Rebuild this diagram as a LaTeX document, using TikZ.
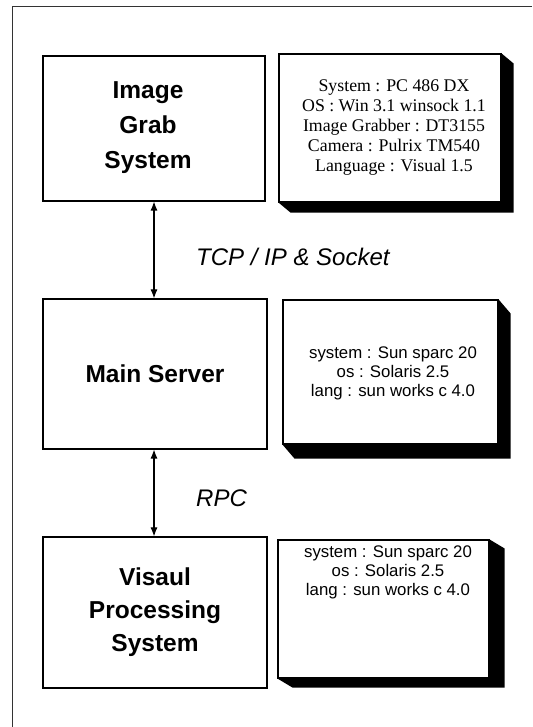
\documentclass[tikz,border=0pt]{standalone}
\usepackage{fontspec}
\setmainfont{Liberation Serif}
\setsansfont{Liberation Sans}
\usetikzlibrary{arrows.meta,calc}

\tikzset{
  sysbox/.style={draw=black, line width=1.1pt, fill=white, inner sep=0pt,
    align=center, font=\sffamily\bfseries\fontsize{24.5}{33}\selectfont},
  infobox/.style={draw=black, line width=1.1pt, fill=white, inner sep=0pt},
  serifinfo/.style={align=center, inner sep=0pt,
    font=\rmfamily\fontsize{17.8}{20}\selectfont},
  sansinfo/.style={align=center, inner sep=0pt,
    font=\sffamily\fontsize{16.8}{19}\selectfont},
  linklabel/.style={anchor=west, inner sep=0pt,
    font=\sffamily\itshape\fontsize{24}{28}\selectfont},
  link/.style={line width=1.1pt,
    {Latex[length=9pt,width=7pt]}-{Latex[length=9pt,width=7pt]}},
  frameline/.style={draw=black!80, line width=0.9pt}
}

% bevelled drop shadow below and to the right of a box
\newcommand{\boxshadow}[3]{%
  \fill[black] (#1.north east) -- ++(#2,-#3)
    -- ($(#1.south east)+(#2,-#3)$) -- ($(#1.south west)+(#2,-#3)$)
    -- (#1.south west) -- (#1.south east) -- cycle;}

\begin{document}
\begin{tikzpicture}[x=1pt,y=1pt]
  \useasboundingbox (0,0) rectangle (532,727);
  \fill[white] (0,0) rectangle (532,727);

  % page frame, open on the right and at the bottom
  \draw[frameline] (532,721) -- (12,721) -- (12,0);

  % system boxes
  \node[sysbox, minimum width=222pt, minimum height=145pt] (grab) at (154,598.5) {};
  \node[align=center, inner sep=0pt,
    font=\sffamily\bfseries\fontsize{24.5}{35}\selectfont] (grabt) at (148,599) {Image\\Grab\\System};
  \node[sysbox, minimum width=224pt, minimum height=150pt] (srv) at (155,353) {Main Server};
  \node[sysbox, minimum width=224pt, minimum height=151pt] (vps) at (155,114.5) {Visaul\\Processing\\System};

  % information boxes with their shadows
  \node[infobox, minimum width=222pt, minimum height=148pt] (inf1) at (390,599) {};
  \node[infobox, minimum width=215pt, minimum height=144pt] (inf2) at (390.5,355) {};
  \node[infobox, minimum width=211pt, minimum height=138pt] (inf3) at (383.5,118) {};
  \boxshadow{inf1}{12}{10}
  \boxshadow{inf2}{12}{14}
  \boxshadow{inf3}{15}{9}

  \node[serifinfo] (inf1t) at (394,599) {System : PC 486 DX\\OS : Win 3.1 winsock 1.1\\Image Grabber : DT3155\\Camera : Pulrix TM540\\Language : Visual 1.5};
  \node[sansinfo] (inf2t) at (393,354) {system : Sun sparc 20\\os : Solaris 2.5\\lang : sun works c 4.0};
  \node[sansinfo] (inf3t) at (388,155) {system : Sun sparc 20\\os : Solaris 2.5\\lang : sun works c 4.0};

  % connections
  \draw[link] (grab.south) -- (grab.south |- srv.north);
  \draw[link] (srv.south -| grab.south) -- (vps.north -| grab.south);

  \node[linklabel] (tcp) at (196,470) {TCP / IP \& Socket};
  \node[linklabel] (rpc) at (196,229) {RPC};
\end{tikzpicture}
\end{document}
